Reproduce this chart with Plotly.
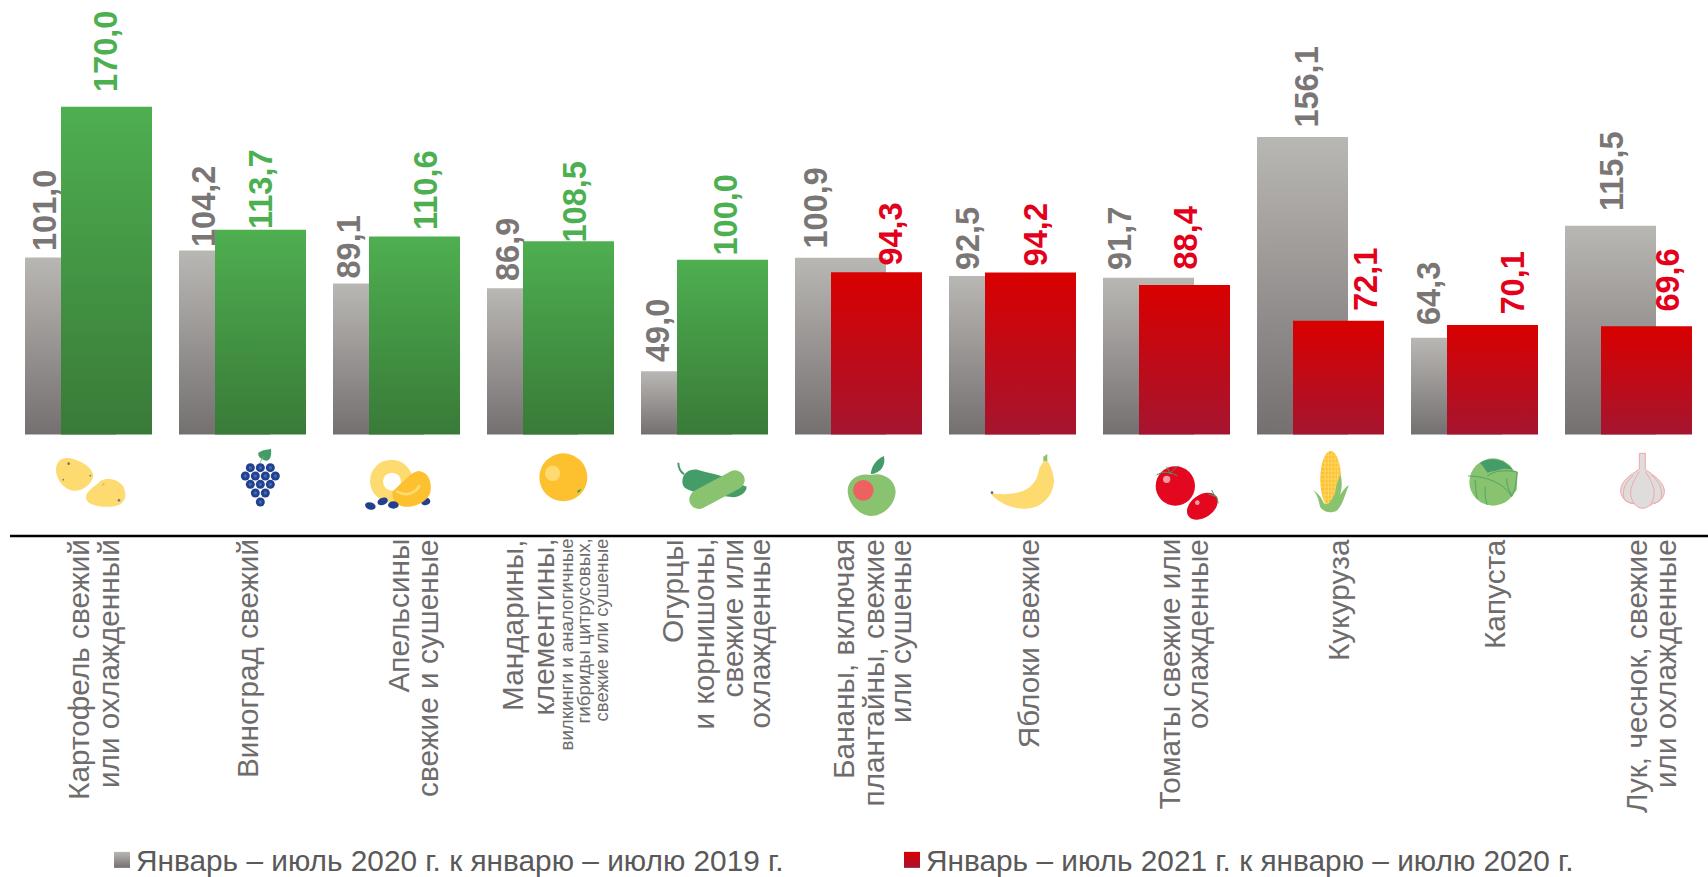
import base64
import plotly.graph_objects as go

W, H = 1708, 877

categories = ["Картофель", "Виноград", "Апельсины", "Мандарины", "Огурцы", "Бананы",
              "Яблоки", "Томаты", "Кукуруза", "Капуста", "Лук, чеснок"]
values_2020 = [101.0, 104.2, 89.1, 86.9, 49.0, 100.9, 92.5, 91.7, 156.1, 64.3, 115.5]
values_2021 = [170.0, 113.7, 110.6, 108.5, 100.0, 94.3, 94.2, 88.4, 72.1, 70.1, 69.6]
n_green = 5
series_names = ["Январь – июль 2020 г. к январю – июлю 2019 г.",
                "Январь – июль 2021 г. к январю – июлю 2020 г."]

# (text, centre x, font size) of each rotated line of the category captions
caption_lines = [
    ("Картофель свежий", 78.4, 0), ("или охлажденный", 108.6, 0),
    ("Виноград свежий", 247.5, 0),
    ("Апельсины", 397.5, 0), ("свежие и сушеные", 427, 0),
    ("Мандарины,", 512, 0), ("клементины,", 543, 0),
    ("вилкинги и аналогичные", 565.5, 1), ("гибриды цитрусовых,", 583, 1), ("свежие или сушеные", 601, 1),
    ("Огурцы", 672, 0), ("и корнишоны,", 703, 0), ("свежие или", 732, 0), ("охлажденные", 758.5, 0),
    ("Бананы, включая", 843, 0), ("плантайны, свежие", 873, 0), ("или сушеные", 900, 0),
    ("Яблоки свежие", 1028.7, 0),
    ("Томаты свежие или", 1169, 0), ("охлажденные", 1197, 0),
    ("Кукуруза", 1338, 0),
    ("Капуста", 1494, 0),
    ("Лук, чеснок, свежие", 1636, 0), ("или охлажденные", 1665.6, 0),
]
# hand-placed value labels: centre x, centre y in page pixels
label_pos_2020 = [(45, 211), (204, 207), (348.5, 247), (508, 250), (658, 331), (815.5, 208),
                  (967.6, 238.5), (1120, 239), (1306.6, 87), (1429, 294), (1612, 171)]
label_pos_2021 = [(106, 52), (261, 189), (426, 190), (574.5, 202), (725.5, 215), (890.6, 234),
                  (1036.8, 234.5), (1185, 238.5), (1366, 280), (1512, 283.5), (1667.6, 280)]

GRAY, GREEN, RED = "rgb(185,183,180)", "rgb(78,175,80)", "rgb(217,0,0)"
GRAY_T, GREEN_T, RED_T = "#7A7675", "#4CAF50", "#E2001A"

px_x = lambda x: x / W
px_y = lambda y: 1 - y / H

period, bar_w, center0 = 154.0, 91.0, 88.2
x0 = -center0 / period
common = dict(width=bar_w / period, hoverinfo="skip", textposition="none", marker_line_width=0)
fig = go.Figure()
fig.add_bar(x=categories, y=values_2020, marker_color=GRAY, name=series_names[0], legend="legend",
            offset=(25 - center0) / period, **common)
fig.add_bar(x=categories[:n_green], y=values_2021[:n_green], marker_color=GREEN, showlegend=False,
            offset=(61 - center0) / period, **common)
fig.add_bar(x=categories[n_green:], y=values_2021[n_green:], marker_color=RED, name=series_names[1], legend="legend2",
            offset=(61 - center0) / period, **common)

annotations = []
def rot_text(text, x, y, size, color, bold=False, yanchor="middle"):
    annotations.append(dict(text=f"<b>{text}</b>" if bold else text, x=px_x(x), y=px_y(y), xref="paper", yref="paper",
                            xanchor="center", yanchor=yanchor, textangle=-90, showarrow=False, borderpad=0,
                            font=dict(family="Liberation Sans", size=size, color=color)))

fmt = lambda v: f"{v:.1f}".replace(".", ",")
for v, (x, y) in zip(values_2020, label_pos_2020):
    rot_text(fmt(v), x, y, 32.5, GRAY_T, True)
for i, (v, (x, y)) in enumerate(zip(values_2021, label_pos_2021)):
    rot_text(fmt(v), x, y, 32.5, GREEN_T if i < n_green else RED_T, True)
for text, x, small in caption_lines:
    rot_text(text, x, 538, 18.7 if small else 29.8, "#6E6C6C", yanchor="top")

# ---- icons, each group drawn in 3x coordinates of its own strip ----
Y, O, B, G, L, R = "#FEDB71", "#FDC130", "#23408F", "#449C68", "#8AC36F", "#E30820"
grapes = "".join(f'<circle cx="{x}" cy="{y}" r="13.5" fill="{B}"/><circle cx="{x}" cy="{y}" r="5" fill="#3A6CB8"/>'
                 for x, y in [(631,83),(661,83),(691,83),(616,108),(646,108),(676,108),(706,108),
                              (631,133),(661,133),(691,133),(646,159),(676,159),(661,186)])
strip1 = f'''
<path d="M48 90C48 60 70 50 90 55C125 62 160 85 160 108C155 135 125 155 100 152C75 150 48 120 48 90Z" fill="{Y}"/>
<circle cx="86" cy="71" r="4" fill="#6B7A80"/><circle cx="151" cy="107" r="2.5" fill="#6B7A80"/><circle cx="70" cy="119" r="2.5" fill="#6B7A80"/>
<path d="M138 168C142 150 170 135 182 122C200 112 235 115 250 140C262 165 258 188 230 197C200 204 165 200 150 190C140 183 137 178 138 168Z" fill="{Y}"/>
<circle cx="237" cy="181" r="4" fill="#6B7A80"/><path d="M187 137L193 129" stroke="#B9A869" stroke-width="3"/>
<path d="M655 38C670 28 680 30 693 26C695 45 692 62 678 62C665 58 652 50 655 38Z" fill="{G}"/>
<path d="M670 50L660 68" stroke="#7CB27F" stroke-width="3"/>{grapes}
<circle cx="1054" cy="123" r="64" fill="{Y}"/><circle cx="1056" cy="125" r="27" fill="#fff"/>
<ellipse cx="1157" cy="185" rx="14" ry="10" transform="rotate(-15 1157 185)" fill="{B}"/>
<path d="M1057 155C1090 125 1115 95 1135 93C1165 95 1175 125 1172 150C1170 180 1130 203 1095 200C1070 198 1055 180 1057 155Z" fill="{O}"/>
<path d="M1072 155C1100 170 1125 160 1138 138" stroke="{Y}" stroke-width="8" fill="none" stroke-linecap="round"/>
<ellipse cx="991" cy="198" rx="16" ry="11" transform="rotate(15 991 198)" fill="{B}"/>
<ellipse cx="1028" cy="184" rx="16" ry="11" transform="rotate(-20 1028 184)" fill="{B}"/>
<ellipse cx="1060" cy="195" rx="16" ry="11" fill="{B}"/>'''
strip2 = f'''
<circle cx="130" cy="112" r="72" fill="{O}"/><circle cx="98" cy="100" r="23" fill="{Y}"/>
<ellipse cx="177" cy="153" rx="7" ry="3" transform="rotate(-45 177 153)" fill="{G}"/>
<path d="M475 68C475 85 482 95 492 103" stroke="{G}" stroke-width="6" fill="none"/>
<path d="M487 125C487 95 515 85 535 90C565 100 590 100 610 112L680 140C680 158 660 170 640 172L530 158C505 150 487 145 487 125Z" fill="{G}"/>
<path d="M537 178L645 120" stroke="{L}" stroke-width="58" stroke-linecap="round"/>
<path d="M1052 103C1055 75 1070 58 1092 48C1097 75 1085 98 1052 103Z" fill="{G}"/>
<path d="M983 150C985 115 1020 98 1052 105C1085 95 1125 115 1127 155C1125 195 1090 228 1053 228C1015 225 983 190 983 150Z" fill="{L}"/>
<circle cx="1030" cy="151" r="31" fill="#ED6161"/>'''
corn_lines = "".join(f'<path d="M{x} 35V200" stroke="{Y}" stroke-width="2.5"/>' for x in (1065, 1075, 1085, 1095, 1103)) + \
             "".join(f'<path d="M1052 {y}H1112" stroke="{Y}" stroke-width="2.5"/>' for y in range(45, 200, 12))
strip3 = f'''
<path d="M220 50L232 42L232 65L220 65Z" fill="{L}"/>
<path d="M65 160C100 165 150 165 180 140C200 125 205 100 208 85C213 75 218 70 222 62L234 65C240 75 250 95 252 120C252 160 225 195 185 204C140 212 95 195 65 165Z" fill="{Y}"/>
<circle cx="66" cy="158" r="4" fill="#666"/>
<circle cx="616" cy="138" r="59" fill="{R}"/><circle cx="590" cy="118" r="11" fill="#F49AA3"/>
<g stroke="{G}" stroke-width="3" fill="none"><path d="M560 105C575 95 590 95 600 100M590 80L600 100M600 100C610 90 620 80 625 78M600 100C610 100 618 105 622 108"/></g>
<ellipse cx="697" cy="199" rx="51" ry="34" transform="rotate(-35 697 199)" fill="{R}"/><circle cx="682" cy="188" r="7" fill="#F49AA3"/>
<g stroke="{G}" stroke-width="3" fill="none"><path d="M715 162L740 170L745 190M725 150L735 170"/></g>
<clipPath id="c"><ellipse cx="1082" cy="118" rx="31" ry="85"/></clipPath>
<ellipse cx="1082" cy="118" rx="31" ry="85" fill="{O}"/><g clip-path="url(#c)">{corn_lines}</g>
<path d="M1027 150C1045 158 1055 175 1062 190C1075 200 1085 180 1095 160C1100 130 1105 115 1112 105C1118 130 1115 150 1110 165C1120 150 1128 140 1137 136C1125 160 1120 195 1100 212C1085 220 1060 218 1050 200C1045 175 1040 160 1027 150Z" fill="{L}"/>'''
strip4 = f'''
<circle cx="279" cy="126" r="71" fill="{L}"/>
<path d="M240 70C262 52 310 50 340 92C320 92 285 90 262 98C255 88 250 78 240 70Z" fill="{G}"/>
<path d="M290 92C320 80 340 90 353 97L350 150L335 170C310 125 290 110 262 108C265 100 275 95 290 92Z" fill="{L}"/>
<path d="M204 108C250 108 310 125 335 170L345 145L352 96C320 90 285 90 262 108M290 90C295 80 300 70 310 62M225 120C230 140 225 160 232 175M255 140C255 160 255 180 262 195M320 115C320 135 325 150 335 165" stroke="{G}" stroke-width="2.5" fill="none"/>
<g stroke="#F3A6A9" stroke-width="3" fill="#DEDDDB"><path d="M718 88C690 105 660 125 662 155C665 175 680 190 700 190C710 200 745 205 760 190C780 188 795 170 793 150C790 125 760 105 736 88V40H718Z"/>
<path d="M700 105C680 125 665 145 672 175C680 185 690 190 700 190" fill="none"/><path d="M755 105C775 125 790 145 783 175C775 185 770 190 760 190" fill="none"/>
<path d="M718 95C705 115 690 140 692 165C695 185 710 205 727 205C745 205 760 190 762 165C765 140 750 115 736 95" /></g>'''
strips = [(strip1, 40, 440, 400, 80), (strip2, 520, 440, 400, 90), (strip3, 970, 440, 400, 90), (strip4, 1400, 440, 300, 90)]
images = []
for body, x, y, w, h in strips:
    svg = f'<svg xmlns="http://www.w3.org/2000/svg" width="{w*3}" height="{h*3}" viewBox="0 0 {w*3} {h*3}">{body}</svg>'
    images.append(dict(source="data:image/svg+xml;base64," + base64.b64encode(svg.encode()).decode(),
                       xref="paper", yref="paper", x=px_x(x), y=px_y(y), sizex=w / W, sizey=h / H,
                       xanchor="left", yanchor="top", sizing="stretch", layer="above"))

legend_font = dict(family="Liberation Sans", size=29.8, color="#595959")
legend_common = dict(orientation="h", yanchor="bottom", y=0, xanchor="left",
                     bgcolor="rgba(0,0,0,0)", borderwidth=0, font=legend_font, itemclick=False, itemdoubleclick=False)
fig.update_layout(
    width=W, height=H, margin=dict(l=0, r=0, t=0, b=0), autosize=False, template="none",
    paper_bgcolor="white", plot_bgcolor="white", barmode="overlay",
    xaxis=dict(type="category", categoryorder="array", categoryarray=categories, visible=False,
               range=[x0, x0 + W / period], domain=[0, 1]),
    yaxis=dict(visible=False, range=[20, 20 + 434.6 / 2.186], domain=[1 - 434.6 / H, 1]),
    legend=dict(x=px_x(96), **legend_common),
    legend2=dict(x=px_x(886), **legend_common),
    annotations=annotations, images=images,
    shapes=[dict(type="line", xref="paper", yref="paper", x0=10 / W, x1=1, y0=px_y(536), y1=px_y(536),
                 line=dict(color="black", width=2.5))],
)

post = """
document.body.style.margin='0';document.body.style.overflow='hidden';
var NS='http://www.w3.org/2000/svg';
var svg=document.querySelector('svg.main-svg');
var defs=document.createElementNS(NS,'defs');svg.appendChild(defs);
var cols={'rgb(185, 183, 180)':['#B9B7B4','#757070'],'rgb(78, 175, 80)':['#4EAF50','#397A38'],'rgb(217, 0, 0)':['#D90000','#A5152F']};
var n=0;
function grad(c,user,y1,y2){var g=document.createElementNS(NS,'linearGradient');var id='barg'+(n++);g.setAttribute('id',id);
 g.setAttribute('x1',0);g.setAttribute('x2',0);
 if(user){g.setAttribute('gradientUnits','userSpaceOnUse');g.setAttribute('y1',y1);g.setAttribute('y2',y2);}
 else{g.setAttribute('y1',0);g.setAttribute('y2',1);}
 [[0,c[0]],[1,c[1]]].forEach(function(s){var e=document.createElementNS(NS,'stop');e.setAttribute('offset',s[0]);e.setAttribute('stop-color',s[1]);g.appendChild(e);});
 defs.appendChild(g);return 'url(#'+id+')';}
document.querySelectorAll('.bars .point path').forEach(function(p){var c=cols[p.style.fill];if(!c)return;
 p.style.fill=grad(c,true,p.getBBox().y,434.6);});
document.querySelectorAll('g.legend, g.legend2').forEach(function(g){
 g.querySelectorAll('.legendpoints path').forEach(function(p){var c=cols[p.style.fill];
  p.setAttribute('d','M14,8H-2V-8H14Z');if(c)p.style.fill=grad(c,false);});
 var r=g.getBoundingClientRect();
 var t=g.getAttribute('transform')||'';var m=/translate\\(([-\\d.]+),\\s*([-\\d.]+)\\)/.exec(t);
 if(m)g.setAttribute('transform','translate('+m[1]+','+(parseFloat(m[2])+(860-(r.top+r.height/2)))+')');});
"""
fig.write_html("out.html", post_script=post, config=dict(displayModeBar=False))
